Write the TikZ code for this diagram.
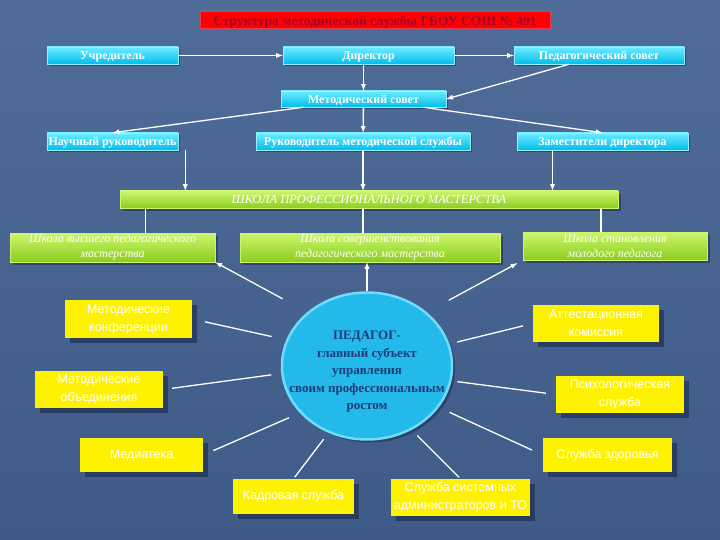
\documentclass[tikz,border=0pt]{standalone}
\usepackage{fontspec}
\setmainfont{Liberation Serif}
\newfontfamily\yfont{Liberation Sans}
\usetikzlibrary{shapes.geometric,shadows}

\definecolor{bgtop}{RGB}{80,108,152}
\definecolor{bgbot}{RGB}{62,90,134}
\definecolor{redtxt}{RGB}{160,0,40}
\definecolor{rededge}{RGB}{230,60,80}
\definecolor{cyantop}{RGB}{110,235,255}
\definecolor{cyanbot}{RGB}{0,190,235}
\definecolor{cyanedge}{RGB}{150,240,255}
\definecolor{greentop}{RGB}{205,245,110}
\definecolor{greenbot}{RGB}{140,205,30}
\definecolor{pedfill}{RGB}{35,185,235}
\definecolor{pedrim}{RGB}{110,220,250}
\definecolor{pedtxt}{RGB}{30,60,120}
\definecolor{shadowblue}{RGB}{25,40,75}

\tikzset{
  titlebox/.style={rectangle, fill=red, draw=rededge, line width=1pt, text=redtxt,
    font=\bfseries\fontsize{13.5}{15}\selectfont, minimum width=350pt, minimum height=17pt,
    inner sep=0pt, text depth=0pt},
  cyanbox/.style={rectangle, draw=cyanedge, line width=0.5pt, top color=cyantop, bottom color=cyanbot,
    text=white, font=\bfseries\fontsize{12}{13}\selectfont, minimum height=17pt, inner sep=0pt,
    text depth=0pt,
    drop shadow={shadow xshift=2pt, shadow yshift=-2pt, fill=shadowblue, opacity=0.5}},
  greenbox/.style={rectangle, draw=greentop, line width=0.5pt, top color=greentop, bottom color=greenbot,
    text=white, font=\itshape\fontsize{12}{15}\selectfont, inner sep=0pt, align=center,
    drop shadow={shadow xshift=3pt, shadow yshift=-3pt, fill=shadowblue, opacity=0.5}},
  yellowbox/.style={rectangle, fill=yellow, text=white, font=\yfont\fontsize{12.5}{18}\selectfont,
    inner sep=0pt, align=center,
    drop shadow={shadow xshift=5pt, shadow yshift=-5pt, fill=shadowblue, opacity=0.6}},
  line/.style={draw=white, line width=1.3pt},
  arr/.style={line, -latex},
}

\begin{document}
\begin{tikzpicture}[x=1pt,y=-1pt]
\useasboundingbox (0,0) rectangle (720,540);
\shade[top color=bgtop, bottom color=bgbot] (0,0) rectangle (720,540);

% upper part
\node[titlebox] (title) at (375,20.5) {Структура методической службы ГБОУ СОШ № 491};

\node[cyanbox, minimum width=131pt] (uchr) at (112.5,55.5) {Учредитель};
\node[cyanbox, minimum width=171pt] (dir) at (368.5,55.5) {Директор};
\node[cyanbox, minimum width=170pt] (pedsov) at (599,55.5) {Педагогический совет};
\node[cyanbox, minimum width=165pt, minimum height=16pt] (metsov) at (363.5,99) {Методический совет};
\node[cyanbox, minimum width=131pt] (nauch) at (112.5,141.5) {Научный руководитель};
\node[cyanbox, minimum width=214pt] (ruk) at (363,141.5) {Руководитель методической службы};
\node[cyanbox, minimum width=171pt] (zam) at (602.5,141.5) {Заместители директора};

\node[greenbox, minimum width=498pt, minimum height=17pt, text depth=0pt,
  font=\itshape\fontsize{12.5}{14}\selectfont]
  (shkola) at (369,199.5) {ШКОЛА ПРОФЕССИОНАЛЬНОГО МАСТЕРСТВА};

\node[greenbox, minimum width=205pt, minimum height=29pt] (sh1) at (112.5,247.5)
  {Школа высшего педагогического\\мастерства};
\node[greenbox, minimum width=260pt, minimum height=29pt] (sh2) at (370,247.5)
  {Школа совершенствования\\педагогического мастерства};
\node[greenbox, minimum width=184pt, minimum height=28pt] (sh3) at (615,246)
  {Школа становления\\молодого педагога};

\draw[arr] (uchr) -- (dir);
\draw[arr] (dir) -- (pedsov);
\draw[arr] (metsov |- dir.south) -- (metsov);
\draw[arr] ([xshift=-30pt]pedsov.south) -- (metsov.east);
\draw[arr] ([xshift=-60pt]metsov.south) -- (nauch.north);
\draw[arr] (metsov) -- (ruk);
\draw[arr] ([xshift=60pt]metsov.south) -- (zam.north);

\coordinate (n1) at ([xshift=7pt]nauch.south east);
\coordinate (z1) at ([xshift=-50pt]zam.south);
\draw[arr] (n1) -- (n1 |- shkola.north);
\draw[arr] (ruk) -- (ruk |- shkola.north);
\draw[arr] (z1) -- (z1 |- shkola.north);

\coordinate (s1) at ([xshift=33pt]sh1.north);
\coordinate (s3) at ([xshift=-14pt]sh3.north);
\draw[line] (s1 |- shkola.south) -- (s1);
\draw[line] (shkola.south -| ruk) -- (ruk |- sh2.north);
\draw[line] (s3 |- shkola.south) -- (s3);

% centre
\node[ellipse, minimum width=170pt, minimum height=147pt, fill=pedfill, draw=pedrim, line width=2.5pt,
  inner sep=0pt, drop shadow={shadow xshift=3pt, shadow yshift=-3pt, fill=shadowblue, opacity=0.5}]
  (ped) at (367,366) {};
\node[text=pedtxt, font=\bfseries\fontsize{13}{17.5}\selectfont, align=center, inner sep=0pt]
  (pedtext) at (367,372) {ПЕДАГОГ-\\главный субъект\\управления\\своим профессиональным\\ростом};

\node[yellowbox, minimum width=127pt, minimum height=38pt] (konf) at (128.5,319) {Методические\\конференции};
\node[yellowbox, minimum width=128pt, minimum height=37pt] (metob) at (99,389.5) {Методические\\объединения};
\node[yellowbox, minimum width=123pt, minimum height=34pt] (media) at (141.5,455) {Медиатека};
\node[yellowbox, minimum width=121pt, minimum height=35pt] (kadr) at (293.5,496.5) {Кадровая служба};
\node[yellowbox, minimum width=139pt, minimum height=37pt] (sysadm) at (460.5,497.5) {Служба системных\\администраторов и ТО};
\node[yellowbox, minimum width=129pt, minimum height=34pt] (zdor) at (607.5,455) {Служба здоровья};
\node[yellowbox, minimum width=128pt, minimum height=37pt] (psych) at (620,394.5) {Психологическая\\служба};
\node[yellowbox, minimum width=126pt, minimum height=37pt] (attest) at (596,323.5) {Аттестационная\\комиссия};

\draw[arr, shorten <=28pt] (ped.138) -- (sh1.south east);
\draw[arr] (ped.north) -- (ped.north |- sh2.south);
\draw[arr, shorten <=25pt, shorten >=6pt] (ped.42) -- (sh3.south west);

\draw[line, shorten <=13pt, shorten >=15pt] (konf.east) -- (ped.162);
\draw[line, shorten <=9pt, shorten >=10pt] (metob.east) -- (ped.185);
\draw[line, shorten <=11pt, shorten >=12pt] (media.east) -- (ped.215);
\draw[line, shorten <=2pt, shorten >=8pt] (kadr.north) -- (ped.240);
\draw[line, shorten <=2pt, shorten >=8pt] (sysadm.north) -- (ped.305);
\draw[line, shorten <=12pt, shorten >=12pt] (zdor.west) -- (ped.330);
\draw[line, shorten <=10pt, shorten >=6pt] (psych.west) -- (ped.350);
\draw[line, shorten <=10pt, shorten >=8pt] (attest.west) -- (ped.15);
\end{tikzpicture}
\end{document}
